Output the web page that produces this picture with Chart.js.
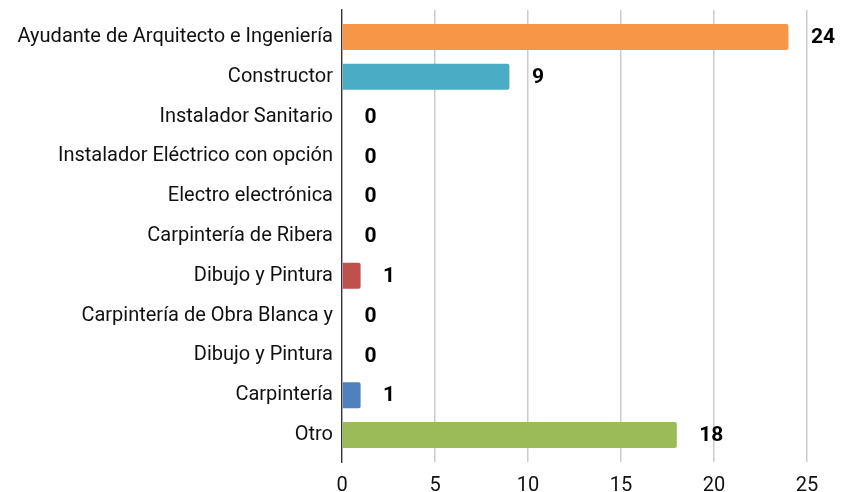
<!DOCTYPE html>
<html><head><meta charset="utf-8">
<script src="https://cdn.jsdelivr.net/npm/chart.js@4"></script>
<style>html,body{margin:0;padding:0;background:#fff}#wrap{width:841px;height:492px;position:relative}</style>
</head><body><div id="wrap"><canvas id="c"></canvas></div>
<script>
const categories = ["Ayudante de Arquitecto e Ingeniería","Constructor","Instalador Sanitario","Instalador Eléctrico con opción","Electro electrónica","Carpintería de Ribera","Dibujo y Pintura","Carpintería de Obra Blanca y","Dibujo y Pintura","Carpintería","Otro"];
const values = [24, 9, 0, 0, 0, 0, 1, 0, 0, 1, 18];
const barColors = ["#F79646","#4BACC6","#8064A2","#9BBB59","#C0504D","#4F81BD","#C0504D","#4F81BD","#F79646","#4F81BD","#9BBB59"];
const xTicks = [0, 5, 10, 15, 20, 25];

const points = values.map((v, i) => ({x: v, y: i}));

const labelPlugin = {
  id: 'valueLabels',
  afterDatasetsDraw(chart) {
    const ctx = chart.ctx, xs = chart.scales.x, ys = chart.scales.y;
    ctx.save();
    ctx.font = 'bold 21px Roboto';
    ctx.fillStyle = '#000';
    ctx.textAlign = 'left';
    ctx.textBaseline = 'middle';
    values.forEach((v, i) => {
      ctx.fillText(String(v), xs.getPixelForValue(v) + 22.5, ys.getPixelForValue(i) + 1);
    });
    ctx.restore();
  }
};

new Chart(document.getElementById('c'), {
  type: 'bar',
  data: { datasets: [{ data: points, backgroundColor: barColors, borderRadius: 2, borderSkipped: 'start', barPercentage: 0.82, categoryPercentage: 0.8 }] },
  options: {
    indexAxis: 'y',
    responsive: true, maintainAspectRatio: false, animation: false,
    layout: { padding: { top: 10, right: 34, left: 0, bottom: 0 } },
    plugins: { legend: { display: false }, tooltip: { enabled: false } },
    scales: {
      x: {
        type: 'linear', min: 0, max: 25,
        afterBuildTicks: s => { s.ticks = xTicks.map(v => ({value: v})); },
        afterFit: s => { s.height = 30; s.paddingLeft = 0; s.paddingRight = 0; },
        grid: { color: '#cccccc', lineWidth: 1.5, drawTicks: false },
        border: { display: false },
        ticks: { color: '#111111', font: { family: 'Roboto', size: 20 }, padding: 12 }
      },
      y: {
        type: 'linear', reverse: true, min: -0.678, max: 10.678, offset: false, bounds: 'data',
        afterBuildTicks: s => { s.ticks = categories.map((c, i) => ({value: i})); },
        afterFit: s => { s.width = 342; s.paddingTop = 0; s.paddingBottom = 0; },
        grid: { display: false, drawTicks: false, offset: false },
        border: { display: true, color: '#333', width: 1.3 },
        ticks: { color: '#111111', font: { family: 'Roboto', size: 20 }, padding: 9, autoSkip: false,
          callback: v => categories[v] }
      }
    }
  },
  plugins: [labelPlugin]
});
</script></body></html>
